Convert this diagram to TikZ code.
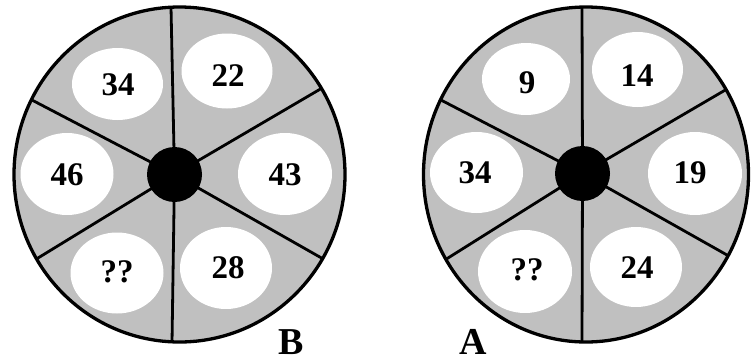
\documentclass[tikz,border=0pt]{standalone}
\usepackage{fontspec}
\setmainfont{Liberation Serif}
\usetikzlibrary{shapes.geometric,calc}
\definecolor{wheelgray}{RGB}{192,192,192}
\begin{document}
\begin{tikzpicture}[x=1pt,y=-1pt,
  rim/.style={line width=3.3pt},
  spoke/.style={line width=2.8pt},
  hole/.style={ellipse, fill=white, inner sep=0pt},
  num/.style={font=\bfseries\fontsize{33}{33}\selectfont, inner sep=0pt},
  tag/.style={font=\bfseries\fontsize{38}{38}\selectfont, inner sep=0pt},
  hub/.style={circle, fill=black, inner sep=0pt, minimum size=55pt}]
\useasboundingbox[fill=white] (0,0) rectangle (751,362);

% ---------------- wheel B ----------------
\fill[wheelgray] (179.5,174.5) ellipse [x radius=165.5pt, y radius=167.5pt];
\node[hole, minimum width=91pt, minimum height=72pt] (hB1) at (117.5,84) {};
\node[hole, minimum width=91pt, minimum height=75pt] (hB2) at (227,71) {};
\node[hole, minimum width=93pt, minimum height=82pt] (hB3) at (67,174) {};
\node[hole, minimum width=94pt, minimum height=82pt] (hB4) at (285,174) {};
\node[hole, minimum width=93pt, minimum height=81pt] (hB5) at (117,273) {};
\node[hole, minimum width=92pt, minimum height=82pt] (hB6) at (226,268) {};
\node[num] (tB1) at (118,85) {34};
\node[num] (tB2) at (228,76) {22};
\node[num] (tB3) at (67,175) {46};
\node[num] (tB4) at (285,175) {43};
\node[num] (tB5) at (117,272) {??};
\node[num] (tB6) at (228,268) {28};
\coordinate (cB) at (174.5,174.5);
\coordinate (eB1) at (171,7);
\coordinate (eB2) at (317,91);
\coordinate (eB3) at (318,256);
\coordinate (eB4) at (172,343);
\coordinate (eB5) at (38,258);
\coordinate (eB6) at (30,99);
\begin{scope}
  \clip (179.5,174.5) ellipse [x radius=165.5pt, y radius=167.5pt];
  \foreach \e in {eB1,eB2,eB3,eB4,eB5,eB6}
    \draw[spoke] (cB) -- ($(cB)!1.2!(\e)$);
\end{scope}
\node[hub] (hubB) at (cB) {};
\draw[rim] (179.5,174.5) ellipse [x radius=165.5pt, y radius=167.5pt];
\node[tag] (labB) at (291,342) {B};

% ---------------- wheel A ----------------
\fill[wheelgray] (586,174.5) ellipse [x radius=162.5pt, y radius=167.5pt];
\node[hole, minimum width=88pt, minimum height=72pt] (hA1) at (526,79) {};
\node[hole, minimum width=91pt, minimum height=75pt] (hA2) at (637.5,69.5) {};
\node[hole, minimum width=93pt, minimum height=81pt] (hA3) at (476.5,172.5) {};
\node[hole, minimum width=94pt, minimum height=83pt] (hA4) at (695,173.5) {};
\node[hole, minimum width=94pt, minimum height=83pt] (hA5) at (525,271.5) {};
\node[hole, minimum width=92pt, minimum height=80pt] (hA6) at (636,267) {};
\node[num] (tA1) at (527,83) {9};
\node[num] (tA2) at (637,76) {14};
\node[num] (tA3) at (475,173) {34};
\node[num] (tA4) at (690,173) {19};
\node[num] (tA5) at (527,270) {??};
\node[num] (tA6) at (637,268) {24};
\coordinate (cA) at (582.5,173.5);
\coordinate (eA1) at (582,7);
\coordinate (eA2) at (727,89);
\coordinate (eA3) at (727,255);
\coordinate (eA4) at (582,342);
\coordinate (eA5) at (448,258);
\coordinate (eA6) at (439,99);
\begin{scope}
  \clip (586,174.5) ellipse [x radius=162.5pt, y radius=167.5pt];
  \foreach \e in {eA1,eA2,eA3,eA4,eA5,eA6}
    \draw[spoke] (cA) -- ($(cA)!1.2!(\e)$);
\end{scope}
\node[hub] (hubA) at (cA) {};
\draw[rim] (586,174.5) ellipse [x radius=162.5pt, y radius=167.5pt];
\node[tag] (labA) at (473,342) {A};
\end{tikzpicture}
\end{document}
